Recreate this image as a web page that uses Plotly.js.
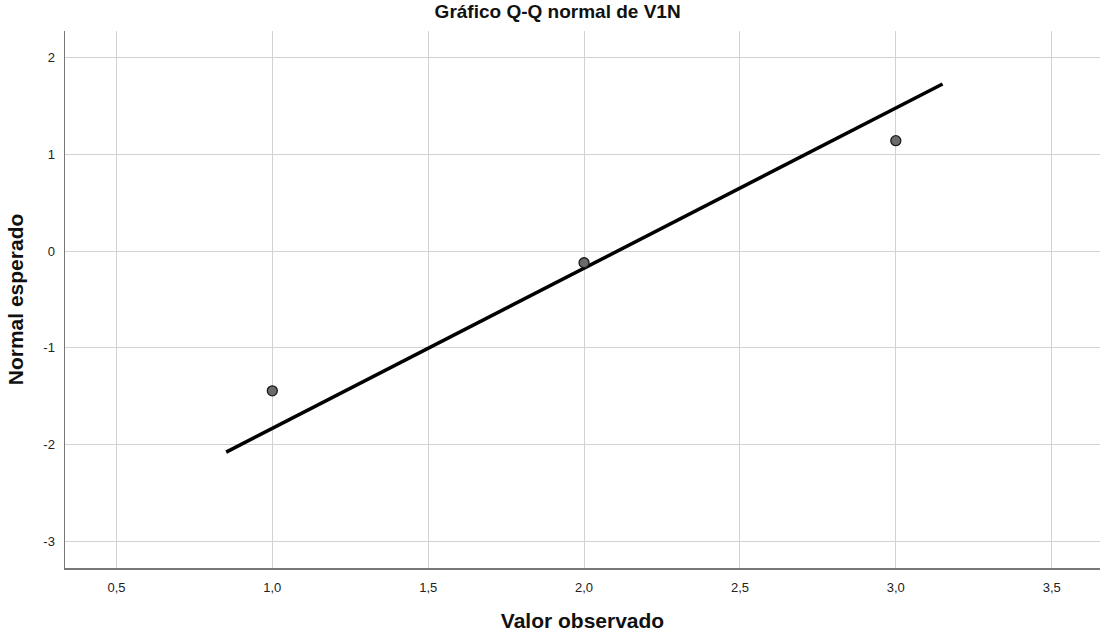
<!DOCTYPE html>
<html>
<head>
<meta charset="utf-8">
<script src="https://cdn.plot.ly/plotly-3.0.1.min.js"></script>
<style>html,body{margin:0;padding:0;background:#fff;}#chart{width:1102px;height:637px;}</style>
</head>
<body>
<div id="chart"></div>
<script>
const observedValues = [1, 2, 3];
const expectedNormal = [-1.444, -0.12, 1.142];
const lineX = [0.852, 3.150];
const lineY = [-2.078, 1.728];
const xTickVals = [0.5, 1.0, 1.5, 2.0, 2.5, 3.0, 3.5];
const xTickText = ["0,5", "1,0", "1,5", "2,0", "2,5", "3,0", "3,5"];
const yTickVals = [-3, -2, -1, 0, 1, 2];
const yTickText = ["-3", "-2", "-1", "0", "1", "2"];

const traces = [
  {
    x: lineX, y: lineY, mode: 'lines', type: 'scatter',
    line: {color: '#000000', width: 3.5}, hoverinfo: 'skip', showlegend: false
  },
  {
    x: observedValues, y: expectedNormal, mode: 'markers', type: 'scatter',
    marker: {color: '#6b6b6b', size: 10, line: {color: '#1a1a1a', width: 1.3}},
    showlegend: false
  }
];

const layout = {
  width: 1102, height: 637,
  margin: {l: 65, r: 2, t: 31, b: 69},
  paper_bgcolor: '#ffffff', plot_bgcolor: '#ffffff',
  font: {family: 'Liberation Sans, Arial, sans-serif', color: '#000'},
  title: {
    text: '<b>Gráfico Q-Q normal de V1N</b>',
    font: {size: 19, color: '#111'},
    x: 0.506, xanchor: 'center', y: 0.992, yanchor: 'top', xref: 'container', yref: 'container'
  },
  xaxis: {
    range: [0.335, 3.655],
    tickvals: xTickVals, ticktext: xTickText,
    showgrid: true, gridcolor: '#d2d2d2', gridwidth: 1,
    zeroline: false,
    showline: true, linecolor: '#777777', linewidth: 1.5,
    ticks: '', tickfont: {size: 13, color: '#222'}, ticklabelstandoff: 7,
    title: {text: '<b>Valor observado</b>', font: {size: 21, color: '#111'}, standoff: 19},
    automargin: false
  },
  yaxis: {
    range: [-3.276, 2.276],
    tickvals: yTickVals, ticktext: yTickText,
    showgrid: true, gridcolor: '#d2d2d2', gridwidth: 1,
    zeroline: false,
    showline: true, linecolor: '#777777', linewidth: 1.5,
    ticks: '', tickfont: {size: 13, color: '#222'}, ticklabelstandoff: 6,
    title: {text: '<b>Normal esperado</b>', font: {size: 21, color: '#111'}, standoff: 14},
    automargin: false
  }
};

Plotly.newPlot('chart', traces, layout, {displayModeBar: false, staticPlot: true});
</script>
</body>
</html>
